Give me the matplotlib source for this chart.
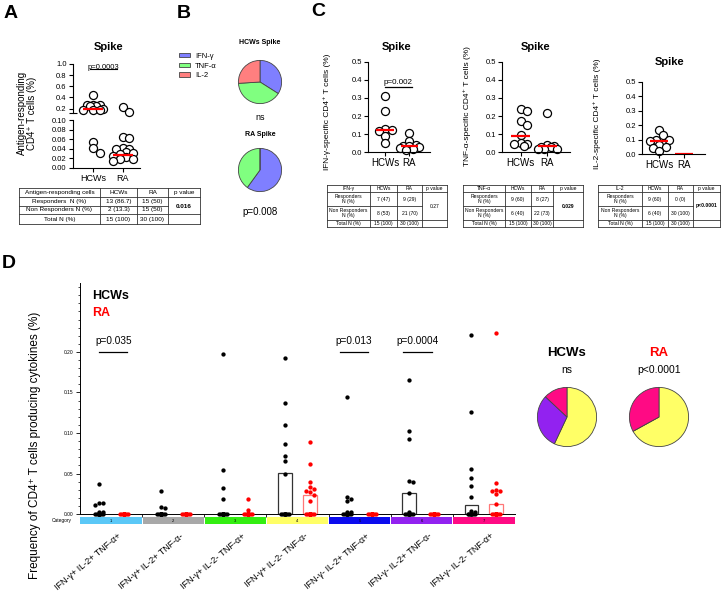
import numpy as np
import matplotlib
matplotlib.use("Agg")
import matplotlib.pyplot as plt
from matplotlib.ticker import MultipleLocator, FormatStrFormatter, FixedLocator

plt.rcParams['font.family'] = ['Liberation Sans', 'DejaVu Sans']
plt.rcParams['axes.linewidth'] = 0.8

# ---------------- data ----------------
# A: antigen-responding CD4+ T cells (responders)
a_groups = ['HCWs', 'RA']
a_hcw = [0.44, 0.27, 0.26, 0.26, 0.25, 0.24, 0.20, 0.18, 0.18, 0.17, 0.055, 0.041, 0.031]
a_ra = [0.22, 0.14, 0.065, 0.063, 0.041, 0.040, 0.039, 0.034, 0.031, 0.030,
        0.024, 0.022, 0.018, 0.018, 0.015]
a_medians = [0.20, 0.028]
a_pvalue = 'p=0.0003'
a_table = [['Antigen-responding cells', 'HCWs', 'RA', 'p value'],
           ['Responders  N (%)', '13 (86.7)', '15 (50)', ''],
           ['Non Responders N (%)', '2 (13.3)', '15 (50)', ''],
           ['Total N (%)', '15 (100)', '30 (100)', '']]
a_table_p = '0.016'

# B: cytokine share of the response
b_labels = ['IFN-γ', 'TNF-α', 'IL-2']
b_colors = ['#7f7fff', '#80ff80', '#ff7f7f']
b_hcw = [34, 40, 26]
b_ra = [60, 40, 0]
b_titles = ['HCWs Spike', 'RA Spike']
b_pvalues = ['ns', 'p=0.008']

# C: single cytokine responses
c_names = ['IFN-γ', 'TNF-α', 'IL-2']
c_ifn_hcw = [0.31, 0.23, 0.13, 0.12, 0.115, 0.09, 0.05]
c_ifn_ra = [0.108, 0.062, 0.037, 0.035, 0.031, 0.028, 0.022, 0.017, 0.013]
c_tnf_hcw = [0.24, 0.226, 0.172, 0.148, 0.093, 0.05, 0.046, 0.043, 0.031]
c_tnf_ra = [0.217, 0.037, 0.033, 0.028, 0.028, 0.019, 0.019, 0.015]
c_il2_hcw = [0.17, 0.13, 0.10, 0.10, 0.09, 0.06, 0.05, 0.04, 0.02]
c_il2_ra = []
c_medians = [[0.12, 0.031], [0.089, 0.031], [0.09, 0.0]]
c_pvalue = ['p=0.002', None, None]
c_tables = [
    [['IFN-γ', 'HCWs', 'RA', 'p value'],
     ['Responders\nN (%)', '7 (47)', '9 (29)', ''],
     ['Non Responders\nN (%)', '8 (53)', '21 (70)', ''],
     ['Total N (%)', '15 (100)', '30 (100)', '']],
    [['TNF-α', 'HCWs', 'RA', 'p value'],
     ['Responders\nN (%)', '9 (60)', '8 (27)', ''],
     ['Non Responders\nN (%)', '6 (40)', '22 (73)', ''],
     ['Total N (%)', '15 (100)', '30 (100)', '']],
    [['IL-2', 'HCWs', 'RA', 'p value'],
     ['Responders\nN (%)', '9 (60)', '0 (0)', ''],
     ['Non Responders\nN (%)', '6 (40)', '30 (100)', ''],
     ['Total N (%)', '15 (100)', '30 (100)', '']],
]
c_table_p = ['0.27', '0.029', 'p<0.0001']
c_table_bold = [False, True, True]

# D: polyfunctional profiles
d_categories = ['IFN-γ+ IL-2+ TNF-α+', 'IFN-γ+ IL-2+ TNF-α-', 'IFN-γ+ IL-2- TNF-α+',
                'IFN-γ+ IL-2- TNF-α-', 'IFN-γ- IL-2+ TNF-α+', 'IFN-γ- IL-2+ TNF-α-',
                'IFN-γ- IL-2- TNF-α+']
d_colors = ['#5bc8f7', '#a8a8a8', '#33ee11', '#ffff66', '#0b0bee', '#9222f0', '#ff0a84']
n_hcw, n_ra = 15, 30
d_hcw_nonzero = [
    [0.037, 0.014, 0.013, 0.011, 0.002, 0.002],
    [0.029, 0.009, 0.008],
    [0.197, 0.054, 0.032, 0.019],
    [0.193, 0.137, 0.110, 0.087, 0.072, 0.065, 0.050],
    [0.144, 0.021, 0.018, 0.016, 0.003, 0.002],
    [0.166, 0.102, 0.093, 0.041, 0.039, 0.026, 0.003],
    [0.221, 0.126, 0.056, 0.045, 0.035, 0.021, 0.004, 0.003],
]
d_ra_nonzero = [
    [], [], [0.019, 0.005],
    [0.089, 0.062, 0.040, 0.033, 0.031, 0.029, 0.027, 0.024, 0.016],
    [], [],
    [0.224, 0.038, 0.030, 0.029, 0.028, 0.025, 0.012],
]
d_hcw_bar = [0, 0, 0, 0.0506, 0, 0.026, 0.011]
d_ra_bar = [0, 0, 0, 0.0235, 0, 0, 0.0125]
d_pvalues = [(0, 'p=0.035'), (4, 'p=0.013'), (5, 'p=0.0004')]
d_pie_cats = [3, 5, 6]
d_pie_hcw = [57, 30, 13]
d_pie_ra = [67, 0, 33]
d_pie_p = ['ns', 'p<0.0001']

# ---------------- figure ----------------
W, H = 722, 598
fig = plt.figure(figsize=(W / 100, H / 100), dpi=100)


def box(x0, y0, x1, y1):
    return [x0 / W, 1 - y1 / H, (x1 - x0) / W, (y1 - y0) / H]


ov = fig.add_axes([0, 0, 1, 1])
ov.set_xlim(0, W)
ov.set_ylim(H, 0)
ov.axis('off')


def swarm(vals, px_per_y, d_px, steps=6):
    cands = [0.0]
    for k in range(1, steps + 1):
        cands += [0.5 * k, -0.5 * k]
    placed, out = [], []
    for v in vals:
        yv = v * px_per_y / d_px
        best, best_d = 0.0, -1.0
        for c in cands:
            d = min([np.hypot(c - px, yv - py) for px, py in placed], default=9.0)
            if d >= 1.0:
                best = c
                break
            if d > best_d:
                best, best_d = c, d
        placed.append((best, yv))
        out.append(best * d_px)
    return np.array(out)


def dots(ax, xc, vals, pxx, pxy, d_px, steps=6, **kw):
    vals = np.asarray(vals, dtype=float)
    if len(vals) == 0:
        return
    off = swarm(vals, pxy, d_px, steps)
    ax.plot(xc + off / pxx, vals, linestyle='none', clip_on=False, **kw)


def prism(ax, fs=5.5):
    ax.spines['top'].set_visible(False)
    ax.spines['right'].set_visible(False)
    ax.tick_params(direction='out', length=3, width=0.8, pad=1.5, labelsize=fs)
    ax.patch.set_alpha(0)


def draw_table(cols, rows, cells, pval, fs, bold):
    lc = '#333333'
    for x in cols:
        ov.plot([x, x], [rows[0], rows[-1]], color=lc, lw=0.6)
    for j, y in enumerate(rows):
        x_end = cols[3] if j == 2 else cols[-1]
        ov.plot([cols[0], x_end], [y, y], color=lc, lw=0.6)
    for j, row in enumerate(cells):
        for i, txt in enumerate(row):
            ov.text((cols[i] + cols[i + 1]) / 2, (rows[j] + rows[j + 1]) / 2, txt,
                    ha='center', va='center', fontsize=fs, linespacing=1.0)
    ov.text((cols[3] + cols[4]) / 2, rows[2], pval, ha='center', va='center',
            fontsize=fs, fontweight='bold' if bold else 'normal')


circ = dict(marker='o', ms=5.8, mfc='white', mec='black', mew=0.9)

# panel letters
for lab, x, y in [('A', 11, 13), ('B', 184, 13), ('C', 318, 12), ('D', 9, 264)]:
    ov.text(x, y, lab, fontsize=14, fontweight='bold', ha='center', va='center')

# ---- A ----
axA_top = fig.add_axes(box(73, 64, 140, 113))
axA_bot = fig.add_axes(box(73, 120, 140, 168))
a_xlim = (-0.67, 1.57)
pxx = 67 / (a_xlim[1] - a_xlim[0])
for ax, ylim, hpx in [(axA_top, (0.12, 1.0), 49), (axA_bot, (0.0, 0.10), 48)]:
    prism(ax)
    ax.set_xlim(*a_xlim)
    ax.set_ylim(*ylim)
    pxy = hpx / (ylim[1] - ylim[0])
    for i, vals in enumerate([a_hcw, a_ra]):
        v = np.array(vals)
        v = v[(v >= ylim[0]) & (v <= ylim[1])]
        dots(ax, i, v, pxx, pxy, 6.5, steps=3, **circ)
        if ylim[0] <= a_medians[i] <= ylim[1]:
            ax.hlines(a_medians[i], i - 0.33, i + 0.33, color='red', lw=1.6, zorder=4)
axA_top.spines['bottom'].set_visible(False)
axA_top.set_xticks([])
axA_top.set_yticks([0.2, 0.4, 0.6, 0.8, 1.0])
axA_top.yaxis.set_major_formatter(FormatStrFormatter('%.1f'))
axA_top.set_yticks([0.12], minor=True)
axA_top.tick_params(which='minor', direction='inout', length=6, width=0.8)
axA_bot.set_yticks([0, 0.02, 0.04, 0.06, 0.08, 0.10])
axA_bot.yaxis.set_major_formatter(FormatStrFormatter('%.2f'))
axA_bot.set_xticks([0, 1])
axA_bot.set_xticklabels(a_groups, fontsize=6.5)
axA_top.plot([-0.1, 0.8], [0.91, 0.91], color='black', lw=0.8, clip_on=False)
axA_top.text(0.35, 0.915, a_pvalue, ha='center', va='baseline', fontsize=5.5)
ov.text(109, 47, 'Spike', fontsize=8, fontweight='bold', ha='center', va='center')
ov.text(27, 113, 'Antigen-responding\nCD4⁺ T cells (%)', rotation=90, ha='center',
        va='center', fontsize=7, linespacing=1.1)
draw_table([19, 100, 137, 168, 200], [188, 197, 206, 214, 224], a_table, a_table_p, 4.6, True)

# ---- B ----
pie_kw = dict(startangle=90, counterclock=False,
              wedgeprops=dict(edgecolor='#444444', linewidth=0.6))
axB1 = fig.add_axes(box(233, 55, 287, 109))
wB, _ = axB1.pie(b_hcw, colors=b_colors, **pie_kw)
axB2 = fig.add_axes(box(233, 143, 287, 197))
axB2.pie(b_ra, colors=b_colors, **pie_kw)
fig.legend(wB, b_labels, loc='upper left', bbox_to_anchor=(172 / W, 1 - 46 / H),
           frameon=False, fontsize=5.5, handlelength=1.5, handleheight=0.55,
           labelspacing=0.35, handletextpad=0.6)
ov.text(260, 43, b_titles[0], fontsize=5, fontweight='bold', ha='center', va='center')
ov.text(260, 117, b_pvalues[0], fontsize=6.5, ha='center', va='center')
ov.text(260, 135, b_titles[1], fontsize=5, fontweight='bold', ha='center', va='center')
ov.text(260, 212, b_pvalues[1], fontsize=7, ha='center', va='center')

# ---- C ----
c_boxes = [(368, 62, 430, 152), (502, 62, 570, 152), (642, 82, 705, 154)]
c_title_pos = [(397, 47), (536, 47), (670, 62)]
c_ylab_pos = [(327, 112), (467, 106), (597, 114)]
c_data = [(c_ifn_hcw, c_ifn_ra), (c_tnf_hcw, c_tnf_ra), (c_il2_hcw, c_il2_ra)]
c_tab_cols = [[327, 370, 397, 422, 447], [463, 505, 531, 553, 583], [598, 642, 668, 693, 720]]
c_xlim = (-0.7, 1.85)
for k in range(3):
    x0, y0, x1, y1 = c_boxes[k]
    ax = fig.add_axes(box(x0, y0, x1, y1))
    prism(ax)
    ax.set_xlim(*c_xlim)
    ax.set_ylim(0, 0.5)
    pxx = (x1 - x0) / (c_xlim[1] - c_xlim[0])
    pxy = (y1 - y0) / 0.5
    for i, vals in enumerate(c_data[k]):
        dots(ax, i, vals, pxx, pxy, 6.5, steps=3, **circ)
        ax.hlines(c_medians[k][i], i - 0.36, i + 0.36, color='red', lw=1.6,
                  zorder=4 if vals else 1)
    ax.set_yticks([0, 0.1, 0.2, 0.3, 0.4, 0.5])
    ax.yaxis.set_major_formatter(FormatStrFormatter('%.1f'))
    ax.set_xticks([0, 1])
    ax.set_xticklabels(a_groups, fontsize=7)
    if c_pvalue[k]:
        ax.plot([0, 1.1], [0.36, 0.36], color='black', lw=0.9, clip_on=False)
        ax.text(0.55, 0.368, c_pvalue[k], ha='center', va='bottom', fontsize=5.8)
    tx, ty = c_title_pos[k]
    ov.text(tx, ty, 'Spike', fontsize=8, fontweight='bold', ha='center', va='center')
    lx, ly = c_ylab_pos[k]
    ov.text(lx, ly, c_names[k] + '-specific CD4⁺ T cells (%)', rotation=90,
            ha='center', va='center', fontsize=6)
    draw_table(c_tab_cols[k], [185, 192, 206, 220, 227], c_tables[k], c_table_p[k],
               3.6, c_table_bold[k])

# ---- D ----
d_top = 0.285
axD = fig.add_axes(box(80, 514 - d_top * 810, 515, 514))
prism(axD, fs=3.5)
axD.set_xlim(0, 7)
axD.set_ylim(0, d_top)
pxx = 435 / 7
pxy = 810
for i in range(7):
    hv = d_hcw_nonzero[i] + [0.0] * (n_hcw - len(d_hcw_nonzero[i]))
    rv = d_ra_nonzero[i] + [0.0] * (n_ra - len(d_ra_nonzero[i]))
    if d_hcw_bar[i] > 0:
        axD.bar(i + 0.3, d_hcw_bar[i], width=0.225, fill=False, edgecolor='#333333', lw=0.9)
    if d_ra_bar[i] > 0:
        axD.bar(i + 0.7, d_ra_bar[i], width=0.225, fill=False, edgecolor='#ff7777', lw=0.9)
    dots(axD, i + 0.3, hv, pxx, pxy, 4.0, steps=2, marker='o', ms=3.1, color='black',
         mew=0, zorder=3)
    dots(axD, i + 0.7, rv, pxx, pxy, 4.0, steps=2, marker='o', ms=3.1, color='red',
         mew=0, zorder=3)
axD.yaxis.set_major_locator(FixedLocator([0, 0.05, 0.10, 0.15, 0.20]))
axD.yaxis.set_minor_locator(MultipleLocator(0.01))
axD.yaxis.set_major_formatter(FormatStrFormatter('%.2f'))
axD.tick_params(axis='y', which='major', length=3, width=0.6, pad=2)
axD.tick_params(axis='y', which='minor', length=1.6, width=0.5)
axD.set_xticks(range(1, 7))
axD.set_xticklabels([])
axD.tick_params(axis='x', length=2, width=0.6)
axD.spines['left'].set_linewidth(0.7)
axD.spines['bottom'].set_linewidth(0.7)
d_pspan = {0: (0.31, 0.76), 4: (0.18, 0.64), 5: (0.2, 0.66)}
for cat, txt in d_pvalues:
    a, b = d_pspan[cat]
    axD.plot([cat + a, cat + b], [0.20, 0.20], color='black', lw=0.9)
    axD.text(cat + (a + b) / 2, 0.207, txt, ha='center', va='bottom', fontsize=7.2)
xt = axD.get_xaxis_transform()
for i, lab in enumerate(d_categories):
    axD.text(i + 0.6, -0.075, lab, transform=xt, rotation=40, rotation_mode='anchor',
             ha='right', va='top', fontsize=6.5)
ov.text(92, 296, 'HCWs', fontsize=9, fontweight='bold', ha='left', va='center')
ov.text(92, 313, 'RA', fontsize=9, fontweight='bold', color='red', ha='left', va='center')
ov.text(35, 445, 'Frequency of CD4⁺ T cells producing cytokines (%)', rotation=90,
        ha='center', va='center', fontsize=8.5)

axS = fig.add_axes(box(80, 517, 515, 524))
axS.bar(np.arange(7) + 0.5, 1, width=0.985, color=d_colors)
axS.set_xlim(0, 7)
axS.set_ylim(0, 1)
axS.axis('off')
for i in range(7):
    axS.text(i + 0.5, 0.5, str(i + 1), fontsize=3, ha='center', va='center')
ov.text(62, 520.5, 'Category', fontsize=3.5, ha='center', va='center')

pie_cols = [d_colors[c] for c in d_pie_cats]
axP1 = fig.add_axes(box(530, 380, 604, 454))
axP1.pie(d_pie_hcw, colors=pie_cols, **pie_kw)
axP2 = fig.add_axes(box(622, 380, 696, 454))
axP2.pie(d_pie_ra, colors=pie_cols, **pie_kw)
ov.text(567, 353, 'HCWs', fontsize=9.5, fontweight='bold', ha='center', va='center')
ov.text(659, 353, 'RA', fontsize=9.5, fontweight='bold', color='red', ha='center', va='center')
ov.text(567, 370, d_pie_p[0], fontsize=7.5, ha='center', va='center')
ov.text(659, 370, d_pie_p[1], fontsize=7.5, ha='center', va='center')

fig.savefig('out.png', dpi=100)
